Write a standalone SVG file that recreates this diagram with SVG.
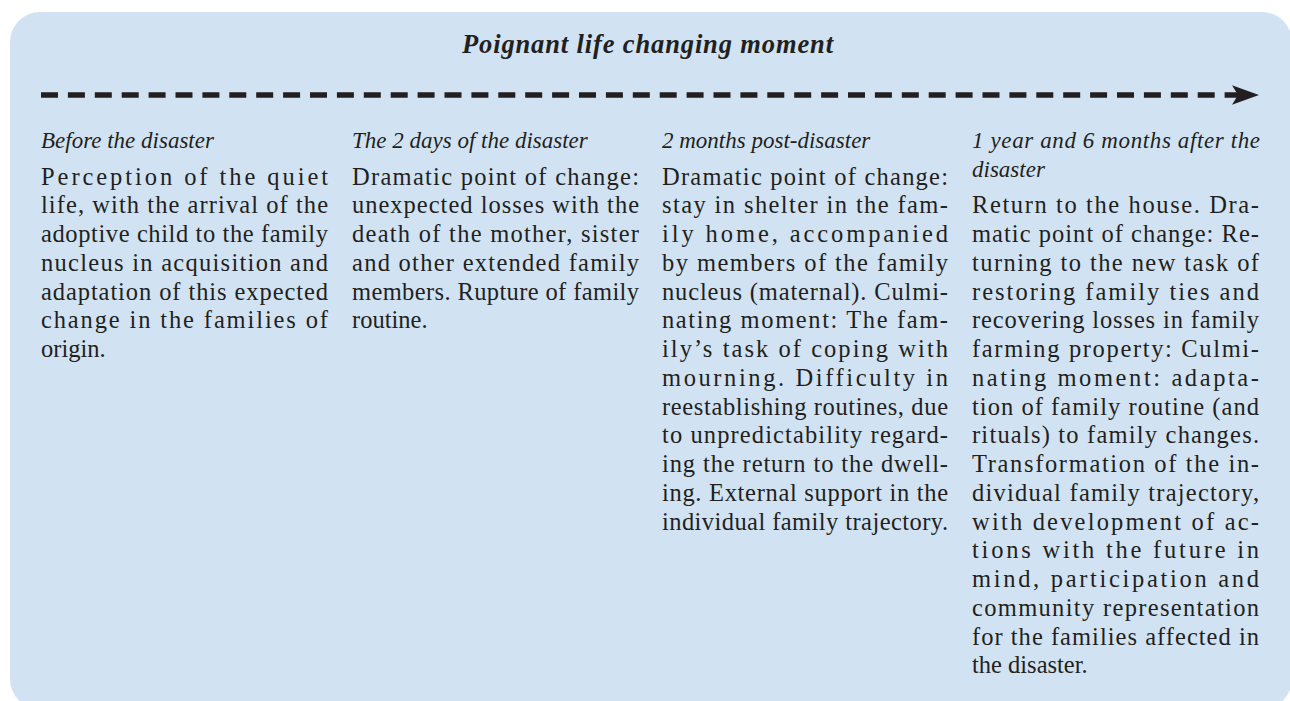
<svg xmlns="http://www.w3.org/2000/svg" width="1290" height="701" viewBox="0 0 1290 701">
<defs>
<style>
.bg{fill:#D1E3F3}
.title{font-family:"Liberation Serif",serif;font-size:26.5px;font-weight:bold;font-style:italic;fill:#231F20}
.hd{font-family:"Liberation Serif",serif;font-size:23px;font-style:italic;fill:#231F20}
.bd{font-family:"Liberation Serif",serif;font-size:24.5px;fill:#231F20}
.dash{stroke:#231F20;stroke-width:5.5;fill:none;stroke-dasharray:17 9.9}
</style>
<marker id="arrow" markerUnits="userSpaceOnUse" markerWidth="30" markerHeight="22" viewBox="0 0 30 22" refX="6" refY="11" orient="auto">
<path d="M0,1.3 L27,11 L0,20.7 L6,11 Z" fill="#231F20"/>
</marker>
</defs>
<rect class="bg" x="10" y="12" width="1282" height="697" rx="30" ry="30"/>
<g id="title">
<text class="title" x="462" y="53" textLength="371" lengthAdjust="spacing">Poignant life changing moment</text>
</g>
<g id="connectors">
<path class="dash" d="M41,95 H1238" marker-end="url(#arrow)"/>
</g>
<g id="col1">
<text class="hd" x="41" y="148">Before the disaster</text>
<text class="bd" x="41" y="184.5" textLength="287" lengthAdjust="spacing">Perception of the quiet</text>
<text class="bd" x="41" y="213.25" textLength="287" lengthAdjust="spacing">life, with the arrival of the</text>
<text class="bd" x="41" y="242" textLength="287" lengthAdjust="spacing">adoptive child to the family</text>
<text class="bd" x="41" y="270.75" textLength="287" lengthAdjust="spacing">nucleus in acquisition and</text>
<text class="bd" x="41" y="299.5" textLength="287" lengthAdjust="spacing">adaptation of this expected</text>
<text class="bd" x="41" y="328.25" textLength="287" lengthAdjust="spacing">change in the families of</text>
<text class="bd" x="41" y="357">origin.</text>
</g>
<g id="col2">
<text class="hd" x="352" y="148">The 2 days of the disaster</text>
<text class="bd" x="352" y="184.5" textLength="287" lengthAdjust="spacing">Dramatic point of change:</text>
<text class="bd" x="352" y="213.25" textLength="287" lengthAdjust="spacing">unexpected losses with the</text>
<text class="bd" x="352" y="242" textLength="287" lengthAdjust="spacing">death of the mother, sister</text>
<text class="bd" x="352" y="270.75" textLength="287" lengthAdjust="spacing">and other extended family</text>
<text class="bd" x="352" y="299.5" textLength="287" lengthAdjust="spacing">members. Rupture of family</text>
<text class="bd" x="352" y="328.25">routine.</text>
</g>
<g id="col3">
<text class="hd" x="662" y="148">2 months post-disaster</text>
<text class="bd" x="662" y="184.5" textLength="286" lengthAdjust="spacing">Dramatic point of change:</text>
<text class="bd" x="662" y="213.25" textLength="286" lengthAdjust="spacing">stay in shelter in the fam-</text>
<text class="bd" x="662" y="242" textLength="286" lengthAdjust="spacing">ily home, accompanied</text>
<text class="bd" x="662" y="270.75" textLength="286" lengthAdjust="spacing">by members of the family</text>
<text class="bd" x="662" y="299.5" textLength="286" lengthAdjust="spacing">nucleus (maternal). Culmi-</text>
<text class="bd" x="662" y="328.25" textLength="286" lengthAdjust="spacing">nating moment: The fam-</text>
<text class="bd" x="662" y="357" textLength="286" lengthAdjust="spacing">ily’s task of coping with</text>
<text class="bd" x="662" y="385.75" textLength="286" lengthAdjust="spacing">mourning. Difficulty in</text>
<text class="bd" x="662" y="414.5" textLength="286" lengthAdjust="spacing">reestablishing routines, due</text>
<text class="bd" x="662" y="443.25" textLength="286" lengthAdjust="spacing">to unpredictability regard-</text>
<text class="bd" x="662" y="472" textLength="286" lengthAdjust="spacing">ing the return to the dwell-</text>
<text class="bd" x="662" y="500.75" textLength="286" lengthAdjust="spacing">ing. External support in the</text>
<text class="bd" x="662" y="529.5" textLength="286" lengthAdjust="spacing">individual family trajectory.</text>
</g>
<g id="col4">
<text class="hd" x="972" y="148" textLength="288" lengthAdjust="spacing">1 year and 6 months after the</text>
<text class="hd" x="972" y="176.5">disaster</text>
<text class="bd" x="972" y="213.25" textLength="287" lengthAdjust="spacing">Return to the house. Dra-</text>
<text class="bd" x="972" y="242" textLength="287" lengthAdjust="spacing">matic point of change: Re-</text>
<text class="bd" x="972" y="270.75" textLength="287" lengthAdjust="spacing">turning to the new task of</text>
<text class="bd" x="972" y="299.5" textLength="287" lengthAdjust="spacing">restoring family ties and</text>
<text class="bd" x="972" y="328.25" textLength="287" lengthAdjust="spacing">recovering losses in family</text>
<text class="bd" x="972" y="357" textLength="287" lengthAdjust="spacing">farming property: Culmi-</text>
<text class="bd" x="972" y="385.75" textLength="287" lengthAdjust="spacing">nating moment:  adapta-</text>
<text class="bd" x="972" y="414.5" textLength="287" lengthAdjust="spacing">tion of family routine (and</text>
<text class="bd" x="972" y="443.25" textLength="287" lengthAdjust="spacing">rituals) to family changes.</text>
<text class="bd" x="972" y="472" textLength="287" lengthAdjust="spacing">Transformation of the in-</text>
<text class="bd" x="972" y="500.75" textLength="287" lengthAdjust="spacing">dividual family trajectory,</text>
<text class="bd" x="972" y="529.5" textLength="287" lengthAdjust="spacing">with development of ac-</text>
<text class="bd" x="972" y="558.25" textLength="287" lengthAdjust="spacing">tions with the future in</text>
<text class="bd" x="972" y="587" textLength="287" lengthAdjust="spacing">mind, participation and</text>
<text class="bd" x="972" y="615.75" textLength="287" lengthAdjust="spacing">community representation</text>
<text class="bd" x="972" y="644.5" textLength="287" lengthAdjust="spacing">for the families affected in</text>
<text class="bd" x="972" y="673.25">the disaster.</text>
</g>
</svg>
